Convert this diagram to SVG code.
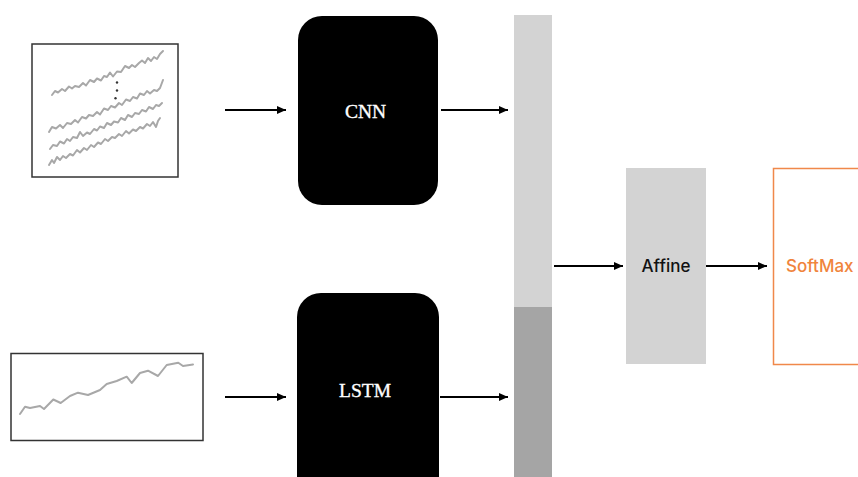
<svg xmlns="http://www.w3.org/2000/svg" width="858" height="477" viewBox="0 0 858 477">
<style>
.frame{fill:#fff;stroke:#333;stroke-width:1.5}
.wave{fill:none;stroke:#a8a8a8;stroke-width:2;stroke-linejoin:round;stroke-linecap:round}
.blk{fill:#000}
.serif{font-family:"Liberation Serif","Times New Roman",serif;font-size:19.5px;fill:#fff;stroke:#fff;stroke-width:0.35;text-anchor:middle}
.sans{font-family:Inter,"Liberation Sans",Arial,sans-serif;font-size:17px;font-weight:500;text-anchor:middle}
.conn{fill:none;stroke:#000;stroke-width:1.8}
</style>
<defs>
<marker id="ah" markerUnits="userSpaceOnUse" markerWidth="9" markerHeight="8" refX="9" refY="4" orient="auto">
<path d="M0,0 L9,4 L0,8 z" fill="#000"/>
</marker>
</defs>
<rect width="858" height="477" fill="#fff"/>
<g id="multi-series">
<rect class="frame" x="32" y="44" width="146" height="133"/>
<polyline class="wave" points="52,95 55,91 58,92.5 62,89 65,91 69,86.5 72,88.5 75,86 79,87 83,83 86,85.5 90,80 94,82 97,78.5 101,80.5 104,76 107,77 110,72.5 113,76.5 117,71.5 121,72 125,66 129,68 132,65 135,67 139,63 142,60.5 145,63 148,58 151,61 154,57 157,59 160,54 163,51"/>
<polyline class="wave" points="49,132 52,127 56,128.5 60,125 63,128 67,123 71,124 75,120 78,122.5 82,117 86,118.5 89,115 93,116 97,112 100,114.5 104,108.5 108,110 111,106 115,107.5 119,103 122,105 126,99.5 130,101 133,97 137,98.5 140,93.5 144,95 147,91 150,93.5 154,90 157,91 160,88 163,80"/>
<polyline class="wave" points="50,149 53,145 57,146 60,141.5 64,143.5 67,139 70,141 73,137 77,138 80,132 83,136 87,132.5 90,134 94,129 97,130.5 100,126.5 104,128 107,123 111,125 114,121.5 118,122.5 121,118 125,120 128,115 132,117 135,113 139,114 142,110 146,111.5 149,107 153,109 156,105 159,106 162,103"/>
<polyline class="wave" points="49,165 52,160 54,163 57,157 60,160 63,156 66,158 70,154 73,155.5 77,150 80,152.5 84,148 87,150 91,145 94,147 98,142.5 101,144 105,139 108,141 112,137 115,138 119,134 122,136 126,131 129,133.5 133,129.5 136,131 140,127 143,128.5 147,124 150,126 153,122 156,127 158,121 160,118"/>
<circle cx="117" cy="82.5" r="1.2" fill="#333"/>
<circle cx="117" cy="90.5" r="1.2" fill="#333"/>
<circle cx="115.5" cy="98.3" r="1.2" fill="#333"/>
</g>
<g id="single-series">
<rect class="frame" x="11" y="353.5" width="192" height="87"/>
<polyline class="wave" points="20,414 25,406.7 30,408 40,406 44,409 53.3,399.5 60.7,403 70,396 78,392.7 88,395 100,390 106.7,384 116.7,381 126.7,376.7 131.7,383 140,373 148,370.7 158,376 166.7,365 178.3,362.7 183,366 193,364.5"/>
</g>
<g id="cnn">
<rect class="blk" x="298" y="16" width="140" height="189" rx="24"/>
<text class="serif" x="365.5" y="118">CNN</text>
</g>
<g id="lstm">
<rect class="blk" x="297" y="293" width="142" height="210" rx="24"/>
<text class="serif" x="365" y="397">LSTM</text>
</g>
<g id="concat">
<rect x="514" y="15" width="38" height="292" fill="#d3d3d3"/>
<rect x="514" y="307" width="38" height="170" fill="#a5a5a5"/>
</g>
<g id="affine">
<rect x="626" y="168" width="80" height="196" fill="#d3d3d3"/>
<text class="sans" x="666" y="272" fill="#111">Affine</text>
</g>
<g id="softmax">
<rect x="773.5" y="168.5" width="100" height="196" fill="#fff" stroke="#f0884a" stroke-width="1.5"/>
<text class="sans" x="786" y="272" fill="#f0843c" font-weight="600" style="text-anchor:start">SoftMax</text>
</g>
<g id="connectors">
<line class="conn" x1="225" y1="110" x2="286" y2="110" marker-end="url(#ah)"/>
<line class="conn" x1="225" y1="397" x2="286" y2="397" marker-end="url(#ah)"/>
<line class="conn" x1="441" y1="110" x2="508" y2="110" marker-end="url(#ah)"/>
<line class="conn" x1="440" y1="397" x2="508" y2="397" marker-end="url(#ah)"/>
<line class="conn" x1="554" y1="266" x2="623" y2="266" marker-end="url(#ah)"/>
<line class="conn" x1="706" y1="266" x2="767" y2="266" marker-end="url(#ah)"/>
</g>
</svg>
